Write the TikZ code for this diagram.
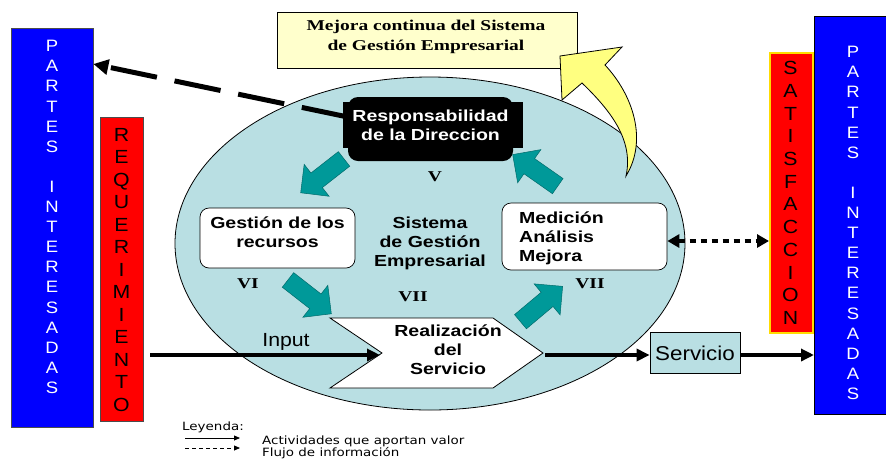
\documentclass[tikz,border=0pt]{standalone}
\usepackage{fontspec}
\setmainfont{Liberation Sans}
\newfontfamily\etiqfont[FakeStretch=1.22]{Liberation Sans}
\newfontfamily\letrafont[FakeStretch=1.12]{Liberation Sans}
\newfontfamily\romfont[FakeStretch=1.3]{Liberation Serif}
\newfontfamily\leyfont[FakeStretch=1.18]{DejaVu Sans}
\usepackage{tikz}
\usetikzlibrary{positioning, arrows.meta, shapes.geometric, shapes.arrows, calc}
\definecolor{partesazul}{RGB}{0,0,255}
\definecolor{reqrojo}{RGB}{255,0,0}
\definecolor{satborde}{RGB}{255,220,0}
\definecolor{sistemafondo}{RGB}{185,223,227}
\definecolor{flechaverde}{RGB}{0,153,153}
\definecolor{mejorafondo}{RGB}{255,255,204}
\definecolor{mejoraflecha}{RGB}{255,255,128}

\begin{document}
\begin{tikzpicture}[x=1pt, y=-1pt,
    caja/.style={draw=black, fill=white, rounded corners=9pt, line width=0.7pt},
    etiq/.style={font=\etiqfont\bfseries\fontsize{16}{19}\selectfont, align=center, inner sep=0pt},
    romano/.style={font=\romfont\bfseries\fontsize{15}{20}\selectfont, inner sep=0pt},
    letras/.style={font=\letrafont\fontsize{16.5}{20.1}\selectfont, align=center, inner sep=0pt},
    bloque/.style={single arrow, single arrow head extend=11pt, inner xsep=0pt, inner ysep=9pt, minimum height=55pt, fill=flechaverde, draw=flechaverde!70!black, line width=0.5pt},
    valor/.style={-{Triangle[length=13pt, width=12pt]}, line width=4pt},
    info/.style={-{Triangle[length=15pt, width=15pt]}, line width=5pt, dash pattern=on 47pt off 18pt},
    ley/.style={font=\leyfont\fontsize{11.4}{13}\selectfont, inner sep=0pt}
]
    \useasboundingbox (0,0) rectangle (886,459);
    \clip (0,0) rectangle (886,459);

    % === PARTES INTERESADAS (izquierda) ===
    \node[draw=gray!60!black, fill=partesazul, minimum width=82, minimum height=399, anchor=north west] (partesL) at (11,28) {};
    \node[letras, white] (partesLtxt) at (52,217) {P\\A\\R\\T\\E\\S\\[20.1pt]I\\N\\T\\E\\R\\E\\S\\A\\D\\A\\S};

    % Requerimiento
    \node[draw=black!70, fill=reqrojo, minimum width=43, minimum height=304, anchor=north west] (req) at (100,117) {};
    \node[letras, font=\letrafont\fontsize{19}{22.5}\selectfont] (reqtxt) at (121.5,270) {R\\E\\Q\\U\\E\\R\\I\\M\\I\\E\\N\\T\\O};

    % === SISTEMA DE GESTION (elipse) ===
    \node[ellipse, draw, fill=sistemafondo, line width=0.8pt, minimum width=510, minimum height=333, inner sep=0pt, etiq] (sistema) at (430,243.5) {Sistema\\de Gestión\\Empresarial};

    % Mejora continua
    \node[draw, fill=mejorafondo, line width=0.7pt, minimum width=300, minimum height=56] (mejora) at (427,40) {};
    \node[romano, align=center] (mejoratxt) at (426,36.5) {Mejora continua del Sistema\\de Gestión Empresarial};

    % Flecha amarilla curva
    \draw[fill=mejoraflecha, line width=0.8pt] (626,176) .. controls (648,140) and (633,95) .. (605,65) -- (622,47) -- (560,56) -- (562,100) -- (582,83) .. controls (610,110) and (634,140) .. (626,176) -- cycle;

    % Responsabilidad de la Direccion
    \fill[black] (343,102) rectangle (523,148);
    \node[fill=black, rounded corners=10pt, minimum width=165, minimum height=64] (direccion) at (430.5,129) {};
    \node[etiq, white] (direcciontxt) at ([yshift=4pt]direccion.center) {Responsabilidad\\de la Direccion};
    \node[romano] (numV) at (435,177) {V};

    % Gestion de los recursos
    \node[caja, minimum width=155, minimum height=60] (recursos) at (277.5,238) {};
    \node[etiq] (recursostxt) at (277.5,232.7) {Gestión de los\\recursos};
    \node[romano] (numVI) at (248,284) {VI};

    % Medicion Analisis Mejora
    \node[caja, minimum width=165, minimum height=67] (medicion) at (584.5,236.5) {};
    \node[etiq, align=left, anchor=west] (mediciontxt) at (519,238) {Medición\\Análisis\\Mejora};
    \node[romano] (numVIIb) at (590,284) {VII};

    % Realizacion del Servicio
    \draw[fill=white, line width=0.8pt] (330,318) -- (493,318) -- (543,353) -- (493,388) -- (330,388) -- (382,353) -- cycle;
    \coordinate (muesca) at (380,355);
    \coordinate (punta) at (545,355);
    \node[etiq] (realizacion) at (448,350) {Realización\\del\\Servicio};
    \node[romano] (numVII) at (413,297) {VII};

    % Flechas del ciclo
    \node[bloque, rotate=218] (flechaV) at (326,173) {};
    \node[bloque, rotate=-38] (flechaVI) at (306,294) {};
    \node[bloque, rotate=40] (flechaVII) at (538,307) {};
    \node[bloque, rotate=145] (flechaVIIb) at (539,173) {};

    % === SATISFACCION y PARTES INTERESADAS (derecha) ===
    \node[draw=satborde, line width=1.5pt, fill=reqrojo, minimum width=43, minimum height=280, anchor=north west] (satisf) at (769,52) {};
    \node[letras, font=\letrafont\fontsize{19}{22.7}\selectfont] (satisftxt) at (790.5,193) {S\\A\\T\\I\\S\\F\\A\\C\\C\\I\\O\\N};
    \node[draw=black, line width=0.8pt, fill=partesazul, minimum width=78, minimum height=398, anchor=north west] (partesR) at (814,16) {};
    \node[letras, white] (partesRtxt) at (853,223) {P\\A\\R\\T\\E\\S\\[20.1pt]I\\N\\T\\E\\R\\E\\S\\A\\D\\A\\S};

    % Servicio
    \node[draw, fill=sistemafondo, line width=0.8pt, minimum width=90, minimum height=41, font=\letrafont\fontsize{20}{22}\selectfont] (servicio) at (695,353) {Servicio};

    % === FLUJOS ===
    \coordinate (inicio) at (150,355);
    \draw[valor] (inicio) -- (muesca);
    \node[font=\letrafont\fontsize{19}{22}\selectfont, inner sep=0pt] (input) at (286,342) {Input};
    \draw[valor] (punta) -- (punta -| servicio.west);
    \draw[valor] (servicio.east |- punta) -- (punta -| partesR.west);

    \draw[info] ([yshift=12pt]direccion.west) -- ([yshift=-36pt]partesL.north east);

    \path ($(medicion.east)+(0,4.5)$) coordinate (flujoA);
    \draw[{Triangle[length=12pt, width=13pt]}-{Triangle[length=12pt, width=13pt]}, line width=4pt, dash pattern=on 6pt off 5pt] (flujoA) -- (flujoA -| satisf.west);

    % === LEYENDA ===
    \node[ley, anchor=base west] (leyenda) at (182,430) {Leyenda:};
    \coordinate (leyA1) at (185,438);
    \coordinate (leyA2) at (240,438);
    \coordinate (leyB1) at (185,448);
    \coordinate (leyB2) at (240,448);
    \draw[-{Triangle[length=6pt, width=5pt]}, line width=0.8pt] (leyA1) -- (leyA2);
    \draw[-{Triangle[length=6pt, width=5pt]}, line width=0.8pt, dash pattern=on 4pt off 3pt] (leyB1) -- (leyB2);
    \node[ley, anchor=base west] (leyvalor) at (262,444) {Actividades que aportan valor};
    \node[ley, anchor=base west] (leyflujo) at (262,456.5) {Flujo de información};

\end{tikzpicture}
\end{document}
